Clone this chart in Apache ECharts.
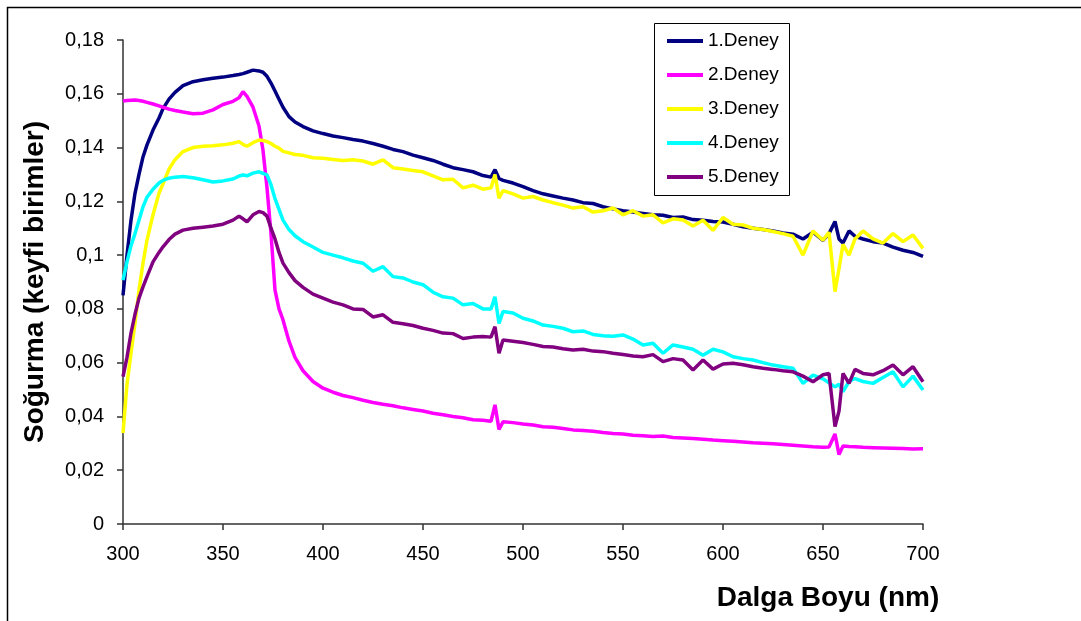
<!DOCTYPE html>
<html>
<head>
<meta charset="utf-8">
<script src="https://cdn.jsdelivr.net/npm/echarts@6/dist/echarts.min.js"></script>
<style>html,body{margin:0;padding:0;background:#fff}#c{width:1081px;height:621px}</style>
</head>
<body>
<div id="c"></div>
<script>
// Wavelength (nm)
var wavelengths = [
  300,302,304,306,308,310,312,
  315,318,320,323,326,330,335,340,345,
  350,355,358,360,362,365,368,370,372,374,376,378,380,383,386,
  390,395,400,405,410,415,420,425,430,435,440,445,450,455,460,465,470,475,480,
  484,486,488,490,495,500,505,510,515,520,525,530,535,540,545,550,
  555,560,565,570,575,580,585,590,595,600,605,610,615,620,625,630,635,640,645,650,
  653,656,658,660,663,666,670,675,680,685,690,695,700
];
var seriesNames = ['1.Deney','2.Deney','3.Deney','4.Deney','5.Deney'];
var deney1 = [
  0.085,0.100,0.113,0.123,0.130,0.1365,0.141,
  0.1465,0.151,0.1545,0.158,0.1605,0.163,0.1645,0.1652,0.1658,
  0.1662,0.1668,0.1672,0.1675,0.168,0.1688,0.1685,0.168,0.1665,0.164,0.161,0.158,0.155,0.1515,0.1495,
  0.1478,0.1462,0.1452,0.1443,0.1437,0.143,0.1424,0.1415,0.1405,0.1393,0.1385,0.1372,0.1362,0.1352,0.1338,0.1325,0.1318,0.131,0.1296,
  0.129,0.1318,0.1285,0.1278,0.1268,0.1255,0.124,0.1228,0.122,0.1212,0.1205,0.1195,0.1192,0.118,0.1172,0.1165,
  0.116,0.1155,0.115,0.1148,0.114,0.1142,0.1132,0.113,0.1125,0.1123,0.1115,0.1105,0.11,0.1095,0.109,0.1082,0.1078,0.106,0.1085,0.1055,
  0.108,0.1125,0.106,0.1045,0.109,0.107,0.106,0.105,0.1045,0.103,0.1018,0.101,0.0995
];
var deney2 = [
  0.1573,0.1575,0.1576,0.1577,0.1575,0.1572,0.1568,
  0.1562,0.1555,0.155,0.1543,0.1538,0.1532,0.1526,0.1528,0.154,
  0.156,0.1572,0.1585,0.1608,0.159,0.155,0.148,0.139,0.125,0.108,0.087,0.080,0.0759,0.068,0.062,
  0.057,0.053,0.0505,0.049,0.0478,0.047,0.046,0.0452,0.0445,0.044,0.0432,0.0426,0.042,0.0412,0.0406,0.04,0.0395,0.0388,0.0386,
  0.0382,0.0443,0.0352,0.038,0.0377,0.0372,0.0368,0.0362,0.036,0.0355,0.035,0.0348,0.0345,0.034,0.0337,0.0335,
  0.033,0.0328,0.0325,0.0327,0.0322,0.032,0.0318,0.0315,0.0312,0.031,0.0308,0.0305,0.0302,0.03,0.0298,0.0296,0.0293,0.029,0.0287,0.0285,
  0.0286,0.0335,0.0258,0.029,0.0288,0.0287,0.0285,0.0284,0.0283,0.0282,0.0281,0.0279,0.028
];
var deney3 = [
  0.0338,0.052,0.0636,0.0747,0.087,0.097,0.1056,
  0.115,0.123,0.1265,0.132,0.1355,0.1385,0.14,0.1405,0.1407,
  0.141,0.1416,0.1422,0.1412,0.1405,0.1418,0.1428,0.1426,0.1422,0.1415,0.1405,0.1398,0.1386,0.138,0.1374,
  0.1371,0.1362,0.136,0.1356,0.1352,0.1355,0.135,0.1338,0.1354,0.1325,0.132,0.1315,0.131,0.1295,0.128,0.1282,0.125,0.126,0.1245,
  0.125,0.13,0.1212,0.124,0.1228,0.1212,0.1218,0.1205,0.1195,0.1186,0.1175,0.118,0.116,0.1165,0.1175,0.115,
  0.1165,0.1145,0.115,0.112,0.1135,0.1131,0.1108,0.113,0.1092,0.114,0.1115,0.1112,0.11,0.1095,0.1088,0.108,0.107,0.1,0.109,0.1055,
  0.1085,0.0864,0.095,0.104,0.1,0.106,0.109,0.106,0.1045,0.108,0.105,0.1075,0.1025
];
var deney4 = [
  0.0907,0.0975,0.1035,0.108,0.113,0.118,0.1215,
  0.1245,0.1268,0.1278,0.1286,0.129,0.1292,0.1288,0.128,0.1272,
  0.1276,0.1283,0.1294,0.1298,0.1295,0.1305,0.131,0.1304,0.1298,0.1262,0.121,0.117,0.113,0.1095,0.1072,
  0.105,0.103,0.101,0.1,0.099,0.0978,0.097,0.094,0.0957,0.092,0.0915,0.09,0.089,0.0862,0.0845,0.084,0.0815,0.082,0.08,
  0.08,0.0845,0.0746,0.079,0.0785,0.0765,0.0755,0.074,0.0735,0.0728,0.0715,0.0718,0.0705,0.07,0.0698,0.0703,
  0.0688,0.0666,0.0672,0.0635,0.0666,0.0658,0.065,0.0628,0.065,0.064,0.0622,0.0615,0.061,0.06,0.0591,0.0585,0.0579,0.0523,0.0554,0.054,
  0.0525,0.051,0.052,0.0492,0.053,0.0541,0.053,0.0523,0.0545,0.0566,0.051,0.055,0.0498
];
var deney5 = [
  0.0548,0.062,0.071,0.078,0.084,0.0882,0.092,
  0.0975,0.101,0.1031,0.1058,0.1078,0.1093,0.11,0.1104,0.1108,
  0.1115,0.113,0.1145,0.1135,0.1124,0.115,0.1162,0.1158,0.1145,0.110,0.106,0.101,0.097,0.0935,0.0905,
  0.088,0.0855,0.084,0.0825,0.0815,0.08,0.0798,0.077,0.0778,0.075,0.0745,0.0738,0.0728,0.072,0.071,0.0708,0.069,0.0695,0.0697,
  0.0695,0.0734,0.0635,0.0684,0.068,0.0675,0.0668,0.066,0.0658,0.0652,0.0647,0.065,0.0643,0.0641,0.0635,0.063,
  0.0625,0.0622,0.063,0.0604,0.0615,0.061,0.0573,0.061,0.0576,0.0595,0.0598,0.0592,0.0585,0.0579,0.0575,0.057,0.0566,0.055,0.0529,0.0555,
  0.056,0.0362,0.042,0.056,0.0523,0.0575,0.056,0.0555,0.057,0.0591,0.0555,0.0585,0.0529
];
var seriesColors = ['#000080','#FF00FF','#FFFF00','#00FFFF','#800080'];
var xTicks = [300,350,400,450,500,550,600,650,700];
var yTickLabels = ['0','0,02','0,04','0,06','0,08','0,1','0,12','0,14','0,16','0,18'];

var allValues = [deney1, deney2, deney3, deney4, deney5];
var FONT = 'Arial, "Liberation Sans", sans-serif';

function pairs(vals){ return wavelengths.map(function(w,i){ return [w, vals[i]]; }); }

var chart = echarts.init(document.getElementById('c'), null, {renderer:'canvas'});
chart.setOption({
  animation: false,
  backgroundColor: '#fff',
  grid: {left: 123, top: 40, right: 158, bottom: 97, containLabel: false},
  xAxis: {
    type: 'value', min: 300, max: 700, interval: 50,
    axisLine: {show: true, lineStyle: {color: '#333', width: 1.5}},
    axisTick: {show: true, inside: false, length: 6, lineStyle: {color: '#333', width: 1.5}},
    axisLabel: {color: '#000', fontSize: 20, fontFamily: FONT, margin: 20},
    splitLine: {show: false}
  },
  yAxis: {
    type: 'value', min: 0, max: 0.18, interval: 0.02,
    axisLine: {show: true, lineStyle: {color: '#333', width: 1.5}},
    axisTick: {show: true, inside: false, length: 6, lineStyle: {color: '#333', width: 1.5}},
    axisLabel: {color: '#000', fontSize: 20, fontFamily: FONT, margin: 19,
      formatter: function(v){ return yTickLabels[Math.round(v/0.02)]; }},
    splitLine: {show: false}
  },
  legend: {
    orient: 'vertical', left: 667, top: 31, padding: 0,
    itemWidth: 36, itemHeight: 4, itemGap: 14, icon: 'rect',
    selectedMode: false,
    textStyle: {color: '#000', fontSize: 19, fontFamily: FONT, lineHeight: 20},
    data: seriesNames
  },
  graphic: [
    {type: 'rect', shape: {x: 7.5, y: 7.5, width: 1090, height: 640}, style: {fill: 'none', stroke: '#000', lineWidth: 1.5}, silent: true},
    {type: 'rect', shape: {x: 654.5, y: 23.5, width: 135, height: 172}, style: {fill: 'none', stroke: '#000', lineWidth: 1}, silent: true, z: 0},
    {type: 'text', x: 828, y: 598, style: {text: 'Dalga Boyu (nm)', fontSize: 28, fontWeight: 'bold', fontFamily: FONT, fill: '#000', align: 'center', verticalAlign: 'middle'}},
    {type: 'text', x: 35, y: 282, rotation: Math.PI/2, style: {text: 'Soğurma (keyfi birimler)', fontSize: 28, fontWeight: 'bold', fontFamily: FONT, fill: '#000', align: 'center', verticalAlign: 'middle'}}
  ],
  series: seriesNames.map(function(n, i){
    return {
      name: n, type: 'line', data: pairs(allValues[i]),
      showSymbol: false, symbol: 'none', smooth: false,
      lineStyle: {color: seriesColors[i], width: 3.5},
      itemStyle: {color: seriesColors[i]},
      z: 2 + i
    };
  })
});
</script>
</body>
</html>
